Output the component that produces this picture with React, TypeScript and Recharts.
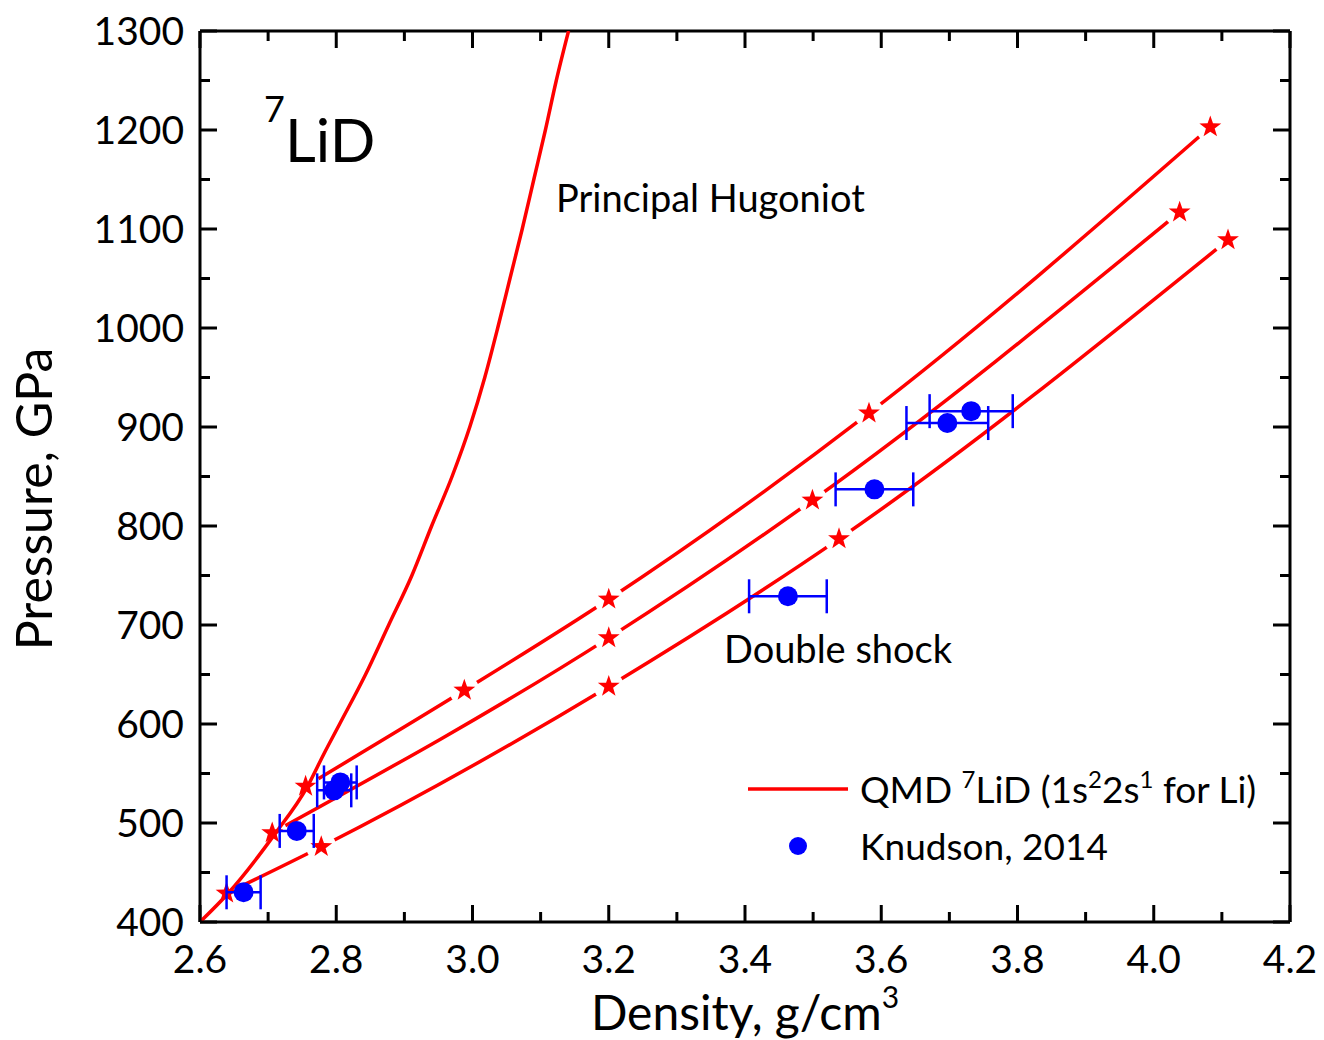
import { ComposedChart, Scatter, ErrorBar, XAxis, YAxis } from "recharts";

// density in g/cm3, pressure in GPa
const hugoniotDensity = [2.6, 2.64, 2.71, 2.757, 2.782, 2.805, 2.843, 2.877, 2.911, 2.94, 2.97, 2.996, 3.018, 3.037, 3.055, 3.073, 3.09, 3.107, 3.123, 3.141];
const hugoniotPressure = [400, 428, 489, 536, 570, 600, 650, 700, 750, 800, 850, 900, 950, 1000, 1050, 1100, 1150, 1200, 1250, 1300];

const shock1Density = [2.755, 2.988, 3.2, 3.582, 4.083];
const shock1Pressure = [537, 634, 726, 914, 1203];
const shock2Density = [2.706, 3.2, 3.499, 4.038];
const shock2Pressure = [490, 687, 826, 1117];
const shock3Density = [2.639, 2.778, 3.2, 3.538, 4.109];
const shock3Pressure = [429, 476, 638, 787, 1089];

const knudsonDensity = [2.664, 2.742, 2.797, 2.806, 3.463, 3.59, 3.697, 3.732];
const knudsonPressure = [430, 492, 533, 541, 729, 837, 904, 916];
const knudsonError = [0.025, 0.025, 0.025, 0.024, 0.057, 0.057, 0.06, 0.061];

const xTicks = [2.6, 2.7, 2.8, 2.9, 3.0, 3.1, 3.2, 3.3, 3.4, 3.5, 3.6, 3.7, 3.8, 3.9, 4.0, 4.1, 4.2];
const yTicks = [400, 450, 500, 550, 600, 650, 700, 750, 800, 850, 900, 950, 1000, 1050, 1100, 1150, 1200, 1250, 1300];

const FONT = "Lato, 'Open Sans', sans-serif";
const RED = "#ff0000";
const BLUE = "#0000ff";

const pairs = (d: number[], p: number[]) => d.map((v, i) => ({ d: v, p: p[i] }));
const hugoniot = pairs(hugoniotDensity, hugoniotPressure);
const shock1 = pairs(shock1Density, shock1Pressure);
const shock2 = pairs(shock2Density, shock2Pressure);
const shock3 = pairs(shock3Density, shock3Pressure);
const knudson = knudsonDensity.map((v, i) => ({ d: v, p: knudsonPressure[i], err: knudsonError[i] }));

function starPath(cx: number, cy: number, R: number, r: number) {
  let s = "";
  for (let i = 0; i < 10; i++) {
    const a = -Math.PI / 2 + (i * Math.PI) / 5;
    const rad = i % 2 === 0 ? R : r;
    s += (i === 0 ? "M" : "L") + (cx + rad * Math.cos(a)).toFixed(2) + "," + (cy + rad * Math.sin(a)).toFixed(2);
  }
  return s + "Z";
}

// white halo cuts the connecting line around each star, like the original plot
const StarDot = (props: any) => {
  const { cx, cy } = props;
  if (cx == null || cy == null) return <g />;
  return (
    <g>
      <circle cx={cx} cy={cy} r={15} fill="#fff" />
      <path d={starPath(cx, cy, 11.5, 4.6)} fill={RED} />
    </g>
  );
};

const NoDot = () => <g />;
const BlueDot = (props: any) => <circle cx={props.cx} cy={props.cy} r={10} fill={BLUE} />;

const isMajorX = (v: number) => Math.round(v * 10) % 2 === 0;
const isMajorY = (v: number) => v % 100 === 0;

const BottomTick = (props: any) => {
  const { x, y, payload } = props;
  const major = isMajorX(payload.value);
  return (
    <g>
      <line x1={x} y1={y} x2={x} y2={y - (major ? 17 : 10)} stroke="#000" strokeWidth={3} />
      {major && (
        <text x={x} y={y + 51} textAnchor="middle" fontSize={39} fontFamily={FONT} fill="#000">
          {payload.value.toFixed(1)}
        </text>
      )}
    </g>
  );
};

const TopTick = (props: any) => {
  const { x, y, payload } = props;
  const major = isMajorX(payload.value);
  return <line x1={x} y1={y} x2={x} y2={y + (major ? 17 : 10)} stroke="#000" strokeWidth={3} />;
};

const LeftTick = (props: any) => {
  const { x, y, payload } = props;
  const major = isMajorY(payload.value);
  return (
    <g>
      <line x1={x} y1={y} x2={x + (major ? 17 : 10)} y2={y} stroke="#000" strokeWidth={3} />
      {major && (
        <text x={x - 16} y={y + 14} textAnchor="end" fontSize={39} fontFamily={FONT} fill="#000">
          {payload.value}
        </text>
      )}
    </g>
  );
};

const RightTick = (props: any) => {
  const { x, y, payload } = props;
  const major = isMajorY(payload.value);
  return <line x1={x} y1={y} x2={x - (major ? 17 : 10)} y2={y} stroke="#000" strokeWidth={3} />;
};

const axisLine = { stroke: "#000", strokeWidth: 3 };
const redLine = { stroke: RED, strokeWidth: 3.5 };

function Overlay() {
  return (
    <svg width={1324} height={1040} style={{ position: "absolute", left: 0, top: 0, pointerEvents: "none" }} fontFamily={FONT}>
      <text x={264} y={122} fontSize={36}>7</text>
      <text x={285} y={162} fontSize={60}>LiD</text>
      <text x={556} y={212} fontSize={38}>Principal Hugoniot</text>
      <text x={724} y={663} fontSize={38}>Double shock</text>

      <line x1={748} y1={789} x2={848} y2={789} stroke={RED} strokeWidth={3.5} />
      <text x={860} y={803} fontSize={37}>
        QMD <tspan dy={-15} fontSize={24}>7</tspan>
        <tspan dy={15}>LiD (1s</tspan>
        <tspan dy={-15} fontSize={24}>2</tspan>
        <tspan dy={15}>2s</tspan>
        <tspan dy={-15} fontSize={24}>1</tspan>
        <tspan dy={15}> for Li)</tspan>
      </text>
      <circle cx={798} cy={846} r={9} fill={BLUE} />
      <text x={860} y={860} fontSize={37}>Knudson, 2014</text>

      <text x={52} y={499} fontSize={50} textAnchor="middle" transform="rotate(-90 52 499)">Pressure, GPa</text>
      <text x={745} y={1030} fontSize={48} textAnchor="middle">
        Density, g/cm<tspan dy={-22} fontSize={30}>3</tspan>
      </text>
    </svg>
  );
}

export default function App() {
  return (
    <div style={{ position: "absolute", left: 0, top: 0, width: 1324, height: 1040, background: "#fff" }}>
      <ComposedChart width={1324} height={1040} margin={{ top: 21, right: 24, bottom: 88, left: 140 }}>
        <XAxis xAxisId="b" type="number" dataKey="d" domain={[2.6, 4.2]} ticks={xTicks} interval={0} allowDataOverflow
          height={30} tickSize={0} tickMargin={0} tickLine={false} axisLine={axisLine} tick={<BottomTick />} />
        <XAxis xAxisId="t" orientation="top" type="number" dataKey="d" domain={[2.6, 4.2]} ticks={xTicks} interval={0} allowDataOverflow
          height={10} tickSize={0} tickMargin={0} tickLine={false} axisLine={axisLine} tick={<TopTick />} />
        <YAxis yAxisId="l" type="number" dataKey="p" domain={[400, 1300]} ticks={yTicks} interval={0} allowDataOverflow
          width={60} tickSize={0} tickMargin={0} tickLine={false} axisLine={axisLine} tick={<LeftTick />} />
        <YAxis yAxisId="r" orientation="right" type="number" dataKey="p" domain={[400, 1300]} ticks={yTicks} interval={0} allowDataOverflow
          width={10} tickSize={0} tickMargin={0} tickLine={false} axisLine={axisLine} tick={<RightTick />} />

        <Scatter xAxisId="b" yAxisId="l" data={shock1} dataKey="p" line={redLine} lineJointType="monotoneX" shape={<StarDot />} isAnimationActive={false} />
        <Scatter xAxisId="b" yAxisId="l" data={shock2} dataKey="p" line={redLine} lineJointType="monotoneX" shape={<StarDot />} isAnimationActive={false} />
        <Scatter xAxisId="b" yAxisId="l" data={shock3} dataKey="p" line={redLine} lineJointType="monotoneX" shape={<StarDot />} isAnimationActive={false} />
        <Scatter xAxisId="b" yAxisId="l" data={hugoniot} dataKey="p" line={redLine} lineJointType="monotoneX" shape={<NoDot />} isAnimationActive={false} />

        <Scatter xAxisId="b" yAxisId="l" data={knudson} dataKey="p" shape={<BlueDot />} isAnimationActive={false} zIndex={900}>
          <ErrorBar dataKey="err" direction="x" width={17} stroke={BLUE} strokeWidth={2.5} zIndex={950} />
        </Scatter>
      </ComposedChart>
      <Overlay />
    </div>
  );
}
